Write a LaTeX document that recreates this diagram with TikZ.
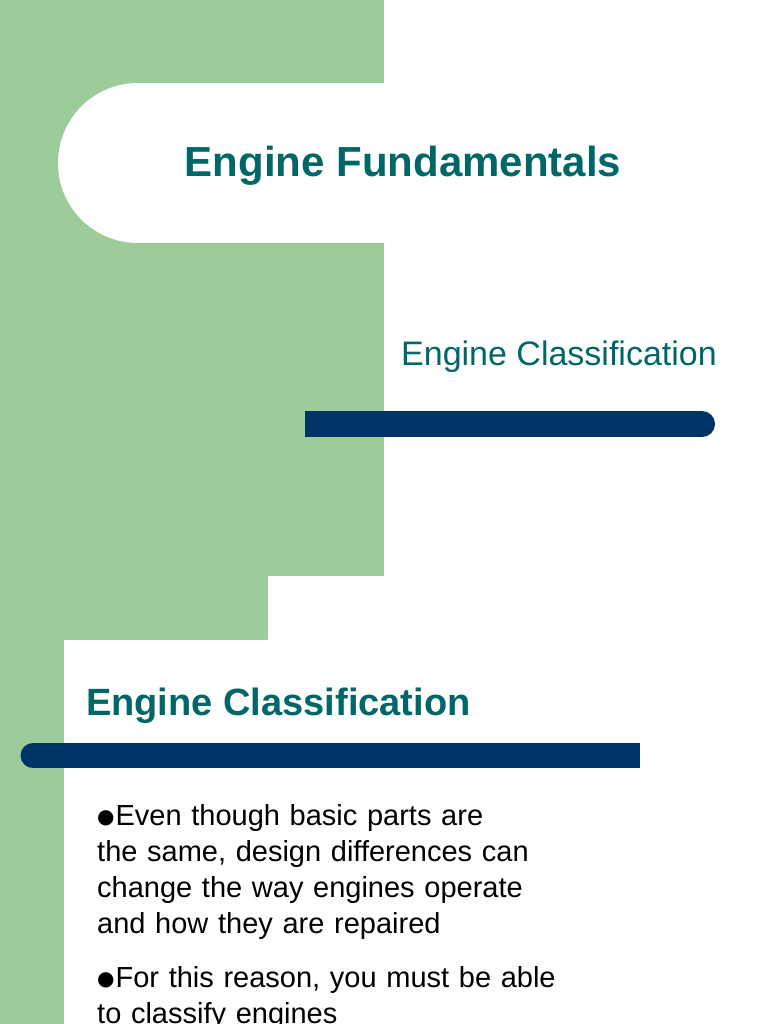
\documentclass[tikz,border=0pt]{standalone}
\usepackage{fontspec}
\setmainfont{Liberation Sans}
\newfontfamily\symfont{DejaVu Sans}
\definecolor{sgreen}{RGB}{155,204,153}
\definecolor{teal2}{RGB}{0,102,102}
\definecolor{navy}{RGB}{0,51,102}
\newcommand{\mybul}{{\symfont\fontsize{20}{20}\selectfont\raisebox{2pt}{●}}\hspace{1pt}}
\begin{document}
\begin{tikzpicture}[x=1pt,y=-1pt,
  bul/.style={anchor=north west,align=left,text width=470pt,font=\fontsize{29}{36}\selectfont,inner sep=0pt}]
\useasboundingbox (0,0) rectangle (768,1024);
\fill[white] (0,0) rectangle (768,1024);
% green background
\fill[sgreen] (0,0) rectangle (384,576);
\fill[sgreen] (0,576) rectangle (268,640);
\fill[sgreen] (0,640) rectangle (64,1024);
% white rounded title box
\fill[white] (138,163) circle[radius=80];
\fill[white] (138,83) rectangle (384,243);
% bottom white slide with rounded corner
\fill[white,rounded corners=30pt] (64,640) rectangle (900,1200);
\fill[white] (268,576) rectangle (768,1024);
% bars
\fill[navy] (305,411) rectangle (702,437);
\fill[navy] (702,424) circle[radius=13];
\fill[navy] (33,743) rectangle (640,768);
\fill[navy] (33,755.5) circle[radius=12.5];
% texts
\node[text=teal2,font=\fontsize{42}{46}\selectfont\bfseries] (t1) at (403,166) {Engine Fundamentals};
\node[text=teal2,font=\fontsize{34}{38}\selectfont,anchor=west,inner sep=0pt] (t2) at (401,357) {Engine Classification};
\node[text=teal2,font=\fontsize{38}{42}\selectfont\bfseries,anchor=west,inner sep=0pt] (t3) at (86,706) {Engine Classification};
\node[bul] (b1) at (97,804) {\mybul Even though basic parts are the same, design differences can change the way engines operate and how they are repaired};
\node[bul] (b2) at (97,966) {\mybul For this reason, you must be able to classify engines};
\end{tikzpicture}
\end{document}
